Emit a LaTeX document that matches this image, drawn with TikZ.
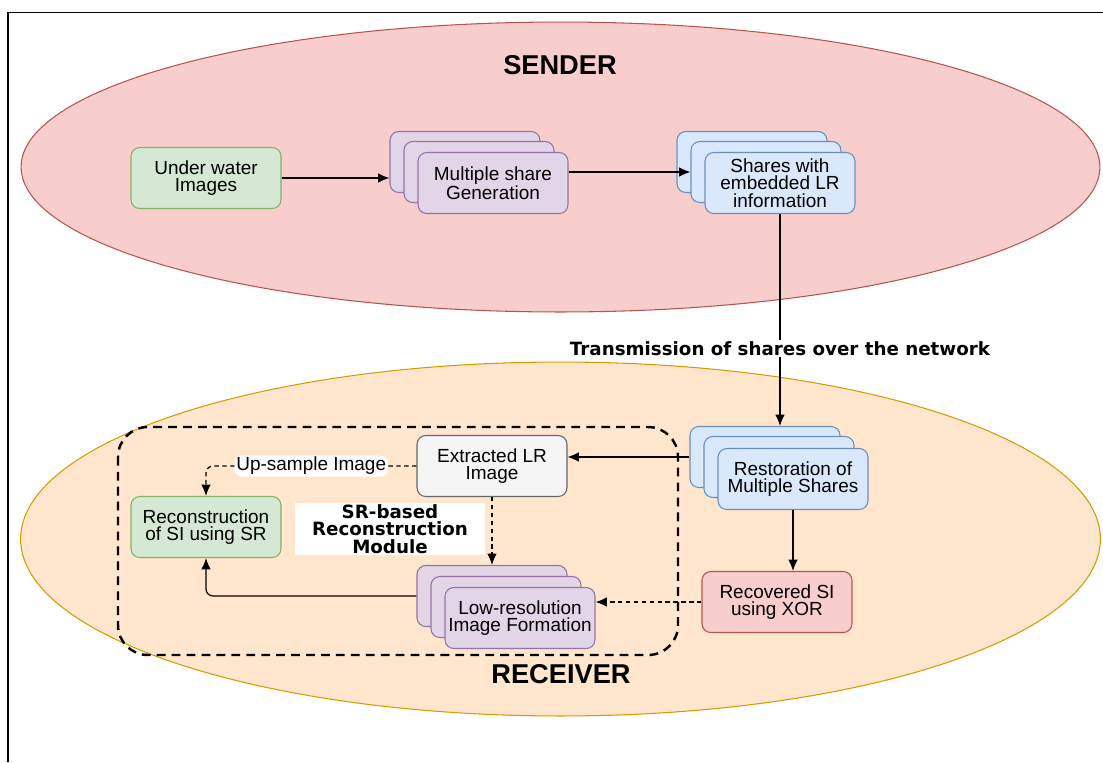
\documentclass[tikz,border=0pt]{standalone}
\usepackage{fontspec}
\setmainfont{Liberation Sans}
\newfontfamily\widebold{DejaVu Sans}
\usetikzlibrary{arrows.meta}

\definecolor{sendfill}{HTML}{F8CECC}
\definecolor{senddraw}{HTML}{B85450}
\definecolor{recvfill}{HTML}{FFE6CC}
\definecolor{recvdraw}{HTML}{D79B00}
\definecolor{greenfill}{HTML}{D5E8D4}
\definecolor{greendraw}{HTML}{82B366}
\definecolor{purplefill}{HTML}{E1D5E7}
\definecolor{purpledraw}{HTML}{9673A6}
\definecolor{bluefill}{HTML}{DAE8FC}
\definecolor{bluedraw}{HTML}{6C8EBF}
\definecolor{greyfill}{HTML}{F5F5F5}
\definecolor{greydraw}{HTML}{666666}

\tikzset{
  box/.style={draw, rounded corners=5pt, minimum width=3cm, minimum height=1.22cm,
    inner sep=0pt, align=center, line width=0.6pt,
    font=\fontsize{10.8}{10}\selectfont},
  greenbox/.style={box, fill=greenfill, draw=greendraw},
  purplebox/.style={box, fill=purplefill, draw=purpledraw},
  bluebox/.style={box, fill=bluefill, draw=bluedraw},
  greybox/.style={box, fill=greyfill, draw=greydraw},
  redbox/.style={box, fill=sendfill, draw=senddraw},
  conn/.style={-{Latex[length=6.5pt,width=5.5pt]}, line width=0.7pt},
  dconn/.style={conn, dash pattern=on 2.5pt off 2pt},
  title/.style={font=\fontsize{15.5}{16}\selectfont\bfseries},
  boldlabel/.style={font=\fontsize{10.4}{10}\selectfont\widebold\bfseries, align=center},
}

\begin{document}
\begin{tikzpicture}[x=0.02cm, y=-0.02cm]
\useasboundingbox (0,0) rectangle (1103,762);

\draw[line width=0.9pt] (8,762) -- (8,12.5) -- (1103,12.5);

% sender and receiver areas
\draw[fill=sendfill, draw=senddraw, line width=0.6pt] (560.5,167) ellipse [x radius=10.79cm, y radius=2.9cm];
\draw[fill=recvfill, draw=recvdraw, line width=0.6pt] (560.5,539) ellipse [x radius=10.8cm, y radius=3.54cm];
\node[title] (sender) at (560,65) {SENDER};
\node[title] (receiver) at (561,674) {RECEIVER};

% SR module frame
\draw[line width=1.4pt, dash pattern=on 5pt off 3.5pt, rounded corners=17pt] (118,427) rectangle (678,655);

% sender side
\node[greenbox] (uw) at (206,178) {Under water\\Images};
\node[purplebox] (gen3) at (465,162) {};
\node[purplebox] (gen2) at (479,172) {};
\node[purplebox] (gen) at (493,183) {Multiple share\\Generation};
\node[bluebox] (sh3) at (752,162) {};
\node[bluebox] (sh2) at (766,172) {};
\node[bluebox] (sh) at (780,183) {Shares with\\embedded LR\\information};

% receiver side
\node[bluebox] (rs3) at (765,457) {};
\node[bluebox] (rs2) at (779,467) {};
\node[bluebox] (rs) at (793,479) {Restoration of\\Multiple Shares};
\node[redbox] (rc) at (777,602) {Recovered SI\\using XOR};
\node[greybox] (ext) at (492,466) {Extracted LR\\Image};
\node[greenbox] (rec) at (206,527) {Reconstruction\\of SI using SR};
\node[purplebox] (lr3) at (492,596) {};
\node[purplebox] (lr2) at (506,607) {};
\node[purplebox] (lr) at (520,618) {Low-resolution\\Image Formation};
\node[boldlabel, fill=white, minimum width=3.82cm, minimum height=1.04cm, inner sep=0pt] (srm) at (390,529) {SR-based\\Reconstruction\\Module};

% connectors
\draw[conn] (uw.east) -- (uw.east -| gen3.west);
\draw[conn] (gen.east |- gen2.east) -- (sh2.west);
\draw[conn] (sh.south) -- (sh.south |- rs3.north)
  node[pos=0.634, fill=white, boldlabel, inner sep=1pt] (tx) {Transmission of shares over the network};
\draw[conn] (rs3.west) -- (rs3.west -| ext.east);
\draw[conn] (rs.south) -- (rs.south |- rc.north);
\draw[dconn] (rc.west) -- (rc.west -| lr.east);
\draw[dconn] (ext.south) -- (lr3.north);
\draw[dconn, rounded corners=4pt] (ext.west) -| (rec.north)
  node[pos=0.25, fill=white, font=\fontsize{10.8}{10}\selectfont, inner sep=1pt] (up) {Up-sample Image};
\draw[conn, rounded corners=4pt] (lr3.west) -| (rec.south);

\end{tikzpicture}
\end{document}
